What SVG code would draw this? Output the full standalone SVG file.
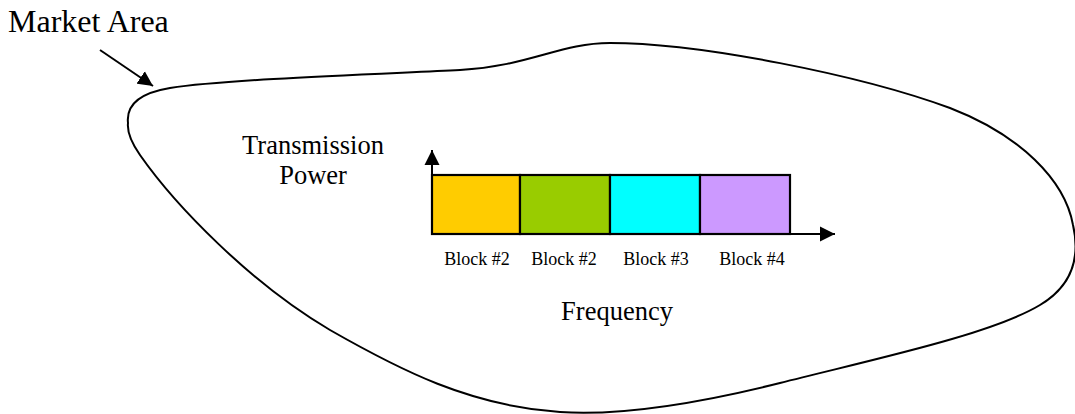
<svg xmlns="http://www.w3.org/2000/svg" width="1075" height="414" viewBox="0 0 1075 414">
  <style>
    .txt { font-family: "Liberation Serif", "Times New Roman", serif; fill: #000; }
    .big { font-size: 32px; }
    .mid { font-size: 26.5px; }
    .small { font-size: 18px; }
    .line { stroke: #000; stroke-width: 2; fill: none; }
    .block { stroke: #000; stroke-width: 2.2; }
  </style>
  <defs>
    <marker id="head" markerUnits="userSpaceOnUse" markerWidth="16" markerHeight="16" refX="15" refY="8" orient="auto">
      <path d="M0,0.5 L15,8 L0,15.5 Z" fill="#000"/>
    </marker>
  </defs>

  <rect width="1075" height="414" fill="#fff"/>

  <!-- market area outline -->
  <g id="market-area">
    <path class="line" d="M128,123 C126,105 140,93 170,88 C230,79 380,74 460,70 C530,66 560,43 610,43 C700,43 860,75 950,108 C1020,135 1065,180 1073,225 C1081,260 1070,287 1040,305 C990,335 870,360 780,383 C700,403 620,416 560,412 C470,406 400,370 330,330 C250,283 175,205 140,155 C131,142 127,132 128,123 Z"/>
    <text class="txt big" x="8" y="32">Market Area</text>
  </g>

  <!-- spectrum blocks -->
  <g id="block-1"><rect class="block" x="432" y="175" width="88" height="59" fill="#FFCC00"/><text class="txt small" x="477" y="265" text-anchor="middle">Block #2</text></g>
  <g id="block-2"><rect class="block" x="520" y="175" width="90" height="59" fill="#99CC00"/><text class="txt small" x="564" y="265" text-anchor="middle">Block #2</text></g>
  <g id="block-3"><rect class="block" x="610" y="175" width="90" height="59" fill="#00FFFF"/><text class="txt small" x="656" y="265" text-anchor="middle">Block #3</text></g>
  <g id="block-4"><rect class="block" x="700" y="175" width="90" height="59" fill="#CC99FF"/><text class="txt small" x="752" y="265" text-anchor="middle">Block #4</text></g>

  <!-- axis labels -->
  <g id="power-label">
    <text class="txt mid" x="313" y="154" text-anchor="middle">Transmission</text>
    <text class="txt mid" x="313" y="184" text-anchor="middle">Power</text>
  </g>
  <g id="frequency-label">
    <text class="txt mid" x="617" y="320" text-anchor="middle">Frequency</text>
  </g>

  <!-- connectors: axes and pointer -->
  <g id="connectors">
    <line class="line" x1="432" y1="235" x2="432" y2="150" marker-end="url(#head)"/>
    <line class="line" x1="431" y1="234" x2="835" y2="234" marker-end="url(#head)"/>
    <line class="line" x1="100" y1="50" x2="153" y2="86" marker-end="url(#head)"/>
  </g>
</svg>
